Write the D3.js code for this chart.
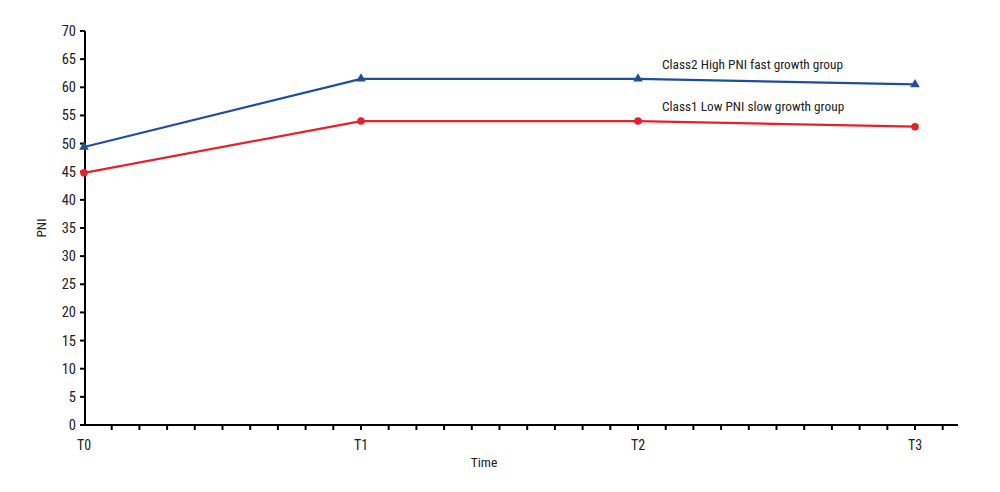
<!DOCTYPE html>
<html><head><meta charset="utf-8">
<script src="https://cdn.jsdelivr.net/npm/d3@7"></script>
<style>body{margin:0;background:#fff}text{font-family:"Liberation Sans Narrow","Roboto Condensed",sans-serif;fill:#222}</style>
</head><body><svg id="c" width="1000" height="492"></svg>
<script>
var times = ["T0", "T1", "T2", "T3"];
var class2 = [49.4, 61.5, 61.5, 60.5];
var class1 = [44.8, 54.0, 54.0, 53.0];
var yTicks = d3.range(0, 71, 5);

var svg = d3.select("#c");
var x = d3.scaleLinear().domain([0, 3]).range([84, 915]);
var y = d3.scaleLinear().domain([0, 70]).range([425, 31]);

// x axis with minor ticks
svg.append("line").attr("x1", 84).attr("x2", 958).attr("y1", 425).attr("y2", 425)
  .attr("stroke", "#000").attr("stroke-width", 2);
d3.range(1, 34).forEach(function (i) {
  var xx = x(i / 10);
  if (xx > 958) return;
  svg.append("line").attr("x1", xx).attr("x2", xx).attr("y1", 425).attr("y2", 430)
    .attr("stroke", "#000").attr("stroke-width", 2);
});
times.forEach(function (t, i) {
  svg.append("text").attr("x", x(i)).attr("y", 450).attr("font-size", 14)
    .attr("text-anchor", "middle").text(t);
});
svg.append("text").attr("x", 484).attr("y", 467).attr("font-size", 13.5)
  .attr("text-anchor", "middle").text("Time");

// y axis
svg.append("line").attr("x1", 85).attr("x2", 85).attr("y1", 31).attr("y2", 426)
  .attr("stroke", "#000").attr("stroke-width", 2);
yTicks.forEach(function (v) {
  svg.append("line").attr("x1", 80).attr("x2", 85).attr("y1", y(v)).attr("y2", y(v))
    .attr("stroke", "#000").attr("stroke-width", 2);
  svg.append("text").attr("x", 76).attr("y", y(v) + 5).attr("font-size", 14.5)
    .attr("text-anchor", "end").text(v);
});
svg.append("text").attr("transform", "translate(46,228) rotate(-90)").attr("font-size", 13.5)
  .attr("text-anchor", "middle").text("PNI");

var line = d3.line().x(function (d, i) { return x(i); }).y(function (d) { return y(d); });

svg.append("path").datum(class1).attr("d", line).attr("fill", "none")
  .attr("stroke", "#e8202a").attr("stroke-width", 2.2);
svg.selectAll(".c1").data(class1).enter().append("circle")
  .attr("cx", function (d, i) { return x(i); }).attr("cy", function (d) { return y(d); })
  .attr("r", 3.8).attr("fill", "#e8202a");

svg.append("path").datum(class2).attr("d", line).attr("fill", "none")
  .attr("stroke", "#1f4e9e").attr("stroke-width", 2.2);
svg.selectAll(".c2").data(class2).enter().append("path")
  .attr("d", d3.symbol().type(d3.symbolTriangle).size(40))
  .attr("transform", function (d, i) { return "translate(" + x(i) + "," + y(d) + ")"; })
  .attr("fill", "#1f4e9e");

svg.append("text").attr("x", 662).attr("y", 69).attr("font-size", 13.3).text("Class2 High PNI fast growth group");
svg.append("text").attr("x", 662).attr("y", 111).attr("font-size", 13.3).text("Class1 Low PNI slow growth group");
</script></body></html>
